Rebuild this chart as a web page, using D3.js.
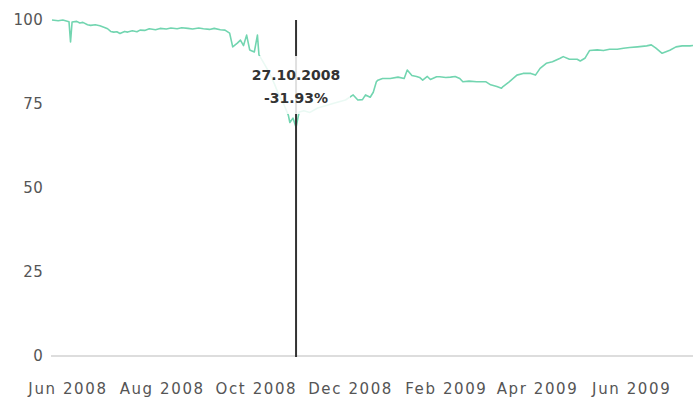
<!DOCTYPE html>
<html>
<head>
<meta charset="utf-8">
<script src="https://cdn.jsdelivr.net/npm/d3@7"></script>
<style>
    body { margin: 0; background: #ffffff; }
    svg { display: block; }
</style>
</head>
<body>
<div id="chart"></div>
<script>

// Index level (start = 100)
const dates = [
    "2008-05-22", "2008-05-26", "2008-05-29", "2008-06-02", "2008-06-03", "2008-06-04", "2008-06-07", "2008-06-09",
    "2008-06-11", "2008-06-14", "2008-06-16", "2008-06-19", "2008-06-22", "2008-06-25", "2008-06-27", "2008-06-29",
    "2008-07-01", "2008-07-03", "2008-07-05", "2008-07-08", "2008-07-10", "2008-07-13", "2008-07-16", "2008-07-18",
    "2008-07-21", "2008-07-24", "2008-07-28", "2008-07-31", "2008-08-04", "2008-08-07", "2008-08-11", "2008-08-14",
    "2008-08-18", "2008-08-21", "2008-08-25", "2008-08-28", "2008-09-01", "2008-09-04", "2008-09-08", "2008-09-11",
    "2008-09-14", "2008-09-16", "2008-09-19", "2008-09-21", "2008-09-23", "2008-09-25", "2008-09-27", "2008-09-30",
    "2008-10-02", "2008-10-03", "2008-10-07", "2008-10-10", "2008-10-13", "2008-10-16", "2008-10-19", "2008-10-22",
    "2008-10-23", "2008-10-25", "2008-10-27", "2008-10-29", "2008-11-01", "2008-11-05", "2008-11-10", "2008-11-15",
    "2008-11-21", "2008-11-28", "2008-12-03", "2008-12-06", "2008-12-09", "2008-12-11", "2008-12-14", "2008-12-16",
    "2008-12-18", "2008-12-19", "2008-12-22", "2008-12-27", "2009-01-01", "2009-01-05", "2009-01-07", "2009-01-10",
    "2009-01-13", "2009-01-15", "2009-01-17", "2009-01-20", "2009-01-22", "2009-01-26", "2009-01-28", "2009-02-01",
    "2009-02-04", "2009-02-07", "2009-02-10", "2009-02-12", "2009-02-16", "2009-02-21", "2009-02-27", "2009-03-02",
    "2009-03-06", "2009-03-09", "2009-03-10", "2009-03-14", "2009-03-19", "2009-03-23", "2009-03-28", "2009-03-31",
    "2009-04-03", "2009-04-07", "2009-04-11", "2009-04-16", "2009-04-18", "2009-04-22", "2009-04-27", "2009-04-29",
    "2009-05-02", "2009-05-05", "2009-05-10", "2009-05-14", "2009-05-18", "2009-05-23", "2009-05-27", "2009-05-31",
    "2009-06-05", "2009-06-11", "2009-06-14", "2009-06-17", "2009-06-21", "2009-06-26", "2009-06-30", "2009-07-04",
    "2009-07-09", "2009-07-11"
];

const values = [
    100.0, 99.8, 100.0, 99.5, 93.5, 99.4, 99.6, 99.1,
    99.3, 98.6, 98.4, 98.6, 98.3, 97.8, 97.4, 96.6,
    96.4, 96.5, 96.0, 96.6, 96.4, 96.8, 96.5, 97.0,
    96.9, 97.4, 97.1, 97.5, 97.3, 97.6, 97.4, 97.7,
    97.5, 97.3, 97.6, 97.4, 97.2, 97.5, 97.1, 97.0,
    96.1, 92.0, 93.1, 94.0, 92.4, 95.5, 91.1, 90.5,
    95.5, 89.6, 86.5, 84.0, 81.0, 77.5, 75.0, 71.7,
    69.5, 70.8, 68.07, 72.6, 73.0, 72.5, 73.8, 74.5,
    75.3, 76.2, 77.7, 76.2, 76.3, 77.7, 77.0, 78.5,
    81.6, 82.1, 82.6, 82.6, 83.0, 82.6, 85.1, 83.5,
    83.2, 82.9, 82.1, 83.2, 82.3, 83.1, 83.1, 82.9,
    83.0, 83.2, 82.6, 81.6, 81.8, 81.6, 81.6, 80.7,
    80.2, 79.7, 80.2, 81.6, 83.6, 84.1, 84.1, 83.6,
    85.6, 87.1, 87.6, 88.6, 89.1, 88.3, 88.3, 87.8,
    88.6, 90.9, 91.1, 90.9, 91.3, 91.3, 91.6, 91.8,
    92.0, 92.3, 92.6, 91.6, 90.1, 91.0, 92.0, 92.3,
    92.3, 92.4
];

const yTicks = [0, 25, 50, 75, 100];
const xTicks = ["2008-06-01", "2008-08-01", "2008-10-01", "2008-12-01", "2009-02-01", "2009-04-01", "2009-06-01"];

// hovered point shown in the tooltip
const hoverDate = "2008-10-27";
const hoverLabel = ["27.10.2008", "-31.93%"];

const parse = d3.timeParse("%Y-%m-%d");
const data = dates.map((d, i) => ({date: parse(d), value: values[i]}));

const width = 693, height = 401;
const font = "'DejaVu Sans', sans-serif";

const svg = d3.select("#chart").append("svg")
    .attr("width", width)
    .attr("height", height);

const x = d3.scaleTime()
    .domain(d3.extent(data, d => d.date))
    .range([52, 693]);

const y = d3.scaleLinear()
    .domain([0, 100])
    .range([356, 20]);

// y axis labels, no line
const yAxis = svg.append("g")
    .attr("transform", "translate(43,0)")
    .call(d3.axisLeft(y).tickValues(yTicks).tickSize(0).tickPadding(0));
yAxis.select(".domain").remove();
yAxis.selectAll("text")
    .attr("font-family", font)
    .attr("font-size", 15)
    .attr("letter-spacing", 0.3)
    .attr("fill", "#555");

// x axis labels
const xAxis = svg.append("g")
    .attr("transform", "translate(0,380)")
    .call(d3.axisBottom(x)
        .tickValues(xTicks.map(parse))
        .tickFormat(d3.timeFormat("%b %Y"))
        .tickSize(0)
        .tickPadding(0));
xAxis.select(".domain").remove();
xAxis.selectAll("text")
    .attr("dy", "0.9em")
    .attr("font-family", font)
    .attr("font-size", 15)
    .attr("letter-spacing", 1.6)
    .attr("fill", "#555");

// baseline at zero
svg.append("line")
    .attr("x1", 51)
    .attr("x2", width)
    .attr("y1", y(0))
    .attr("y2", y(0))
    .attr("stroke", "#d2d2d2")
    .attr("stroke-width", 1.5);

const line = d3.line()
    .x(d => x(d.date))
    .y(d => y(d.value));

svg.append("path")
    .datum(data)
    .attr("d", line)
    .attr("fill", "none")
    .attr("stroke", "#72d5b0")
    .attr("stroke-width", 1.6)
    .attr("stroke-linejoin", "round");

// hover rule
const hx = x(parse(hoverDate));

svg.append("line")
    .attr("x1", hx)
    .attr("x2", hx)
    .attr("y1", y(100))
    .attr("y2", y(0) + 1)
    .attr("stroke", "#333")
    .attr("stroke-width", 2);

// tooltip: half-transparent white box with the two lines of text
svg.append("rect")
    .attr("x", hx - 54)
    .attr("y", 56)
    .attr("width", 108)
    .attr("height", 58)
    .attr("fill", "#ffffff")
    .attr("fill-opacity", 0.85);

svg.append("g")
    .selectAll("text")
    .data(hoverLabel)
    .join("text")
    .attr("x", hx)
    .attr("y", (d, i) => 80 + i * 23)
    .attr("text-anchor", "middle")
    .attr("font-family", font)
    .attr("font-size", 14)
    .attr("font-weight", "bold")
    .attr("fill", "#333")
    .text(d => d);

</script>
</body>
</html>
